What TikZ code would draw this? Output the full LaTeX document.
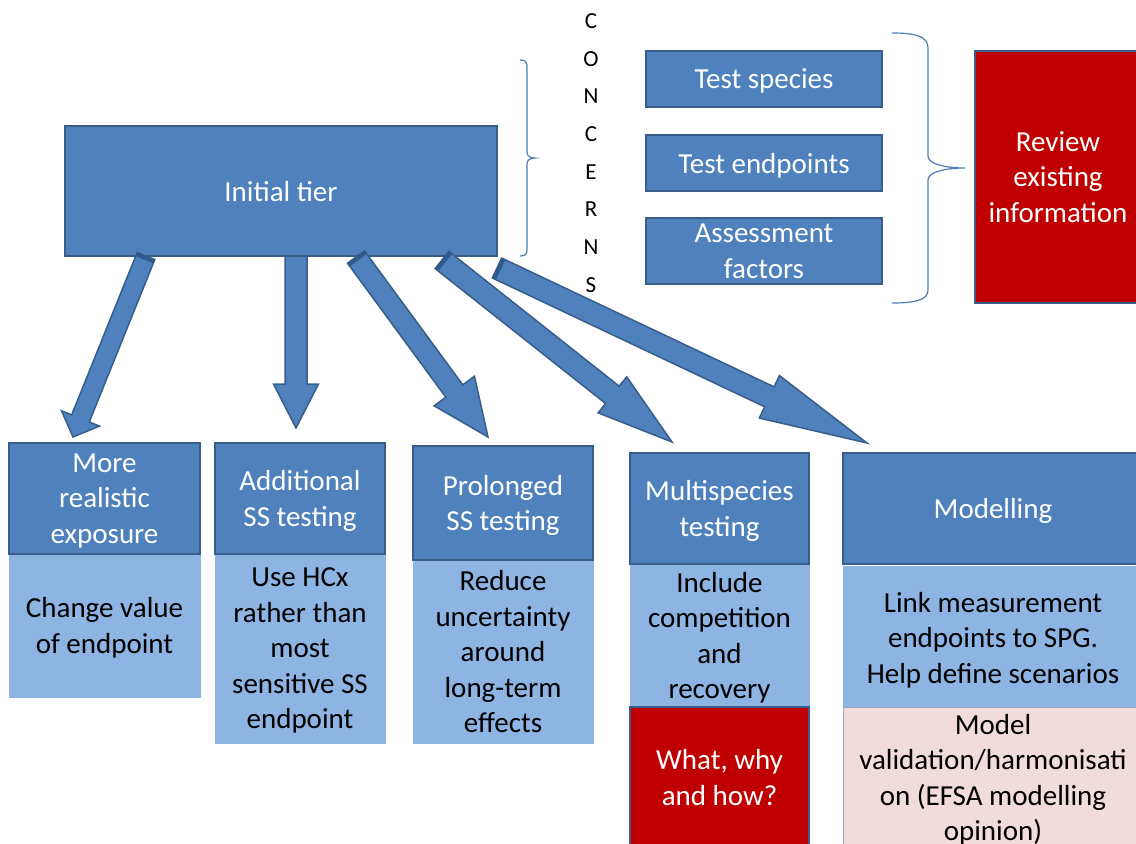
\documentclass[tikz,border=0pt]{standalone}
\usepackage{fontspec}
\setmainfont{Carlito}
\usetikzlibrary{calc}

\definecolor{boxblue}{HTML}{4F81BD}
\definecolor{edgeblue}{HTML}{385D8A}
\definecolor{paleblue}{HTML}{8DB4E2}
\definecolor{alertred}{HTML}{C00000}
\definecolor{palepink}{HTML}{F2DCDB}
\definecolor{bracecol}{HTML}{4A7EBB}
\definecolor{tailshade}{HTML}{30598C}

\tikzset{
  every node/.style={font=\fontsize{29bp}{35.5bp}\selectfont, align=center,
                     inner sep=0pt, outer sep=0pt},
  boxtext/.style={text depth=0pt},
  bluebox/.style={boxtext, fill=boxblue, draw=edgeblue, line width=1.5bp, text=white},
  notebox/.style={boxtext, fill=paleblue, draw=paleblue, line width=0.8bp, text=black},
  redbox/.style={boxtext, fill=alertred, draw=edgeblue, line width=1.5bp, text=white},
  pinkbox/.style={boxtext, fill=palepink, draw=edgeblue!55, line width=1bp, text=black},
  bracket/.style={draw=bracecol, line width=1.2bp},
  fatarrow/.style={fill=boxblue, draw=edgeblue, line width=1.5bp, line join=miter},
  sidelabel/.style={font=\fontsize{23bp}{37.7bp}\selectfont, text=black},
}

% block arrow: #1 name, #2 tail, #3 tip, #4 shaft half-width, #5 head half-width, #6 head length
\newcommand\blockarrow[6]{%
  \coordinate (#1-h) at ($(#3)!#6!(#2)$);
  \draw[fatarrow] ($(#2)!#4!90:(#3)$) -- ($(#1-h)!#4!90:(#3)$)
    -- ($(#1-h)!#5!90:(#3)$) -- (#3) -- ($(#1-h)!#5!-90:(#3)$)
    -- ($(#1-h)!#4!-90:(#3)$) -- ($(#2)!#4!-90:(#3)$) -- cycle;
}
% darker band at the tail end of a block arrow
\newcommand\arrowtail[4]{%
  \coordinate (#1-t) at ($(#2)!4bp!(#3)$);
  \fill[tailshade] ($(#2)!#4!90:(#3)$) -- ($(#2)!#4!-90:(#3)$)
    -- ($(#1-t)!#4!-90:(#3)$) -- ($(#1-t)!#4!90:(#3)$) -- cycle;
}

\begin{document}
\begin{tikzpicture}[x=1bp, y=-1bp]
\path[use as bounding box] (0,0) rectangle (1136,844);
\clip (0,0) rectangle (1136,844);
\fill[white] (0,0) rectangle (1136,844);

% top row
\node[bluebox, minimum width=432bp, minimum height=130bp] (init) at (281,191) {Initial tier};

\node[sidelabel] (concerns) at (591,153) {C\\O\\N\\C\\E\\R\\N\\S};

\node[bluebox, minimum width=236bp, minimum height=56bp] (species) at (764,79) {Test species};
\node[bluebox, minimum width=236bp, minimum height=56bp] (endpoints) at (764,163) {Test endpoints};
\node[bluebox, minimum width=236bp, minimum height=66bp] (factors) at (764,251) {Assessment\\factors};

\node[redbox, minimum width=166bp, minimum height=252bp] (review) at (1058,177) {Review\\existing\\information};

% braces
\draw[bracket] (520,60) .. controls (525,60) and (527,62) .. (527,66) -- (527,152)
  .. controls (527,156) and (530,158) .. (535,158)
  .. controls (530,158) and (527,160) .. (527,164) -- (527,250)
  .. controls (527,254) and (525,256) .. (520,256);
\draw[bracket] (892,33) .. controls (915,33) and (928,36) .. (928,48) -- (928,156)
  .. controls (928,164) and (945,168) .. (965,168)
  .. controls (945,168) and (928,172) .. (928,180) -- (928,290)
  .. controls (928,300) and (915,303) .. (892,303);

% bottom row: note bodies first, headers on top
\node[notebox, minimum width=191bp, minimum height=143bp] (b1) at (104.5,625.5) {Change value\\of endpoint};
\node[notebox, minimum width=170bp, minimum height=189bp] (b2) at (300,648.5) {Use HCx\\rather than\\most\\sensitive SS\\endpoint};
\node[notebox, minimum width=180bp, minimum height=183bp] (b3) at (503,651.5) {Reduce\\uncertainty\\around\\long-term\\effects};
\node[notebox, minimum width=179bp, minimum height=143bp] (b4) at (719.5,635.5) {Include\\competition\\and\\recovery};
\node[notebox, minimum width=300bp, minimum height=143bp] (b5) at (993,637.5) {Link measurement\\endpoints to SPG.\\Help define scenarios};

\node[redbox, minimum width=179bp, minimum height=141bp] (x4) at (719.5,777.5) {What, why\\and how?};
\node[pinkbox, minimum width=300bp, minimum height=141bp] (x5) at (993,777.5) {Model\\validation/harmonisati\\on (EFSA modelling\\opinion)};

\node[bluebox, minimum width=191bp, minimum height=111bp] (h1) at (104.5,498.5) {More\\realistic\\exposure};
\node[bluebox, minimum width=170bp, minimum height=111bp] (h2) at (300,498.5) {Additional\\SS testing};
\node[bluebox, minimum width=180bp, minimum height=114bp] (h3) at (503,503) {Prolonged\\SS testing};
\node[bluebox, minimum width=179bp, minimum height=111bp] (h4) at (719.5,508.5) {Multispecies\\testing};
\node[bluebox, minimum width=300bp, minimum height=111bp] (h5) at (993,508.5) {Modelling};

% arrow ends
\coordinate (a1-tail) at ($(init.south west)+(81,0)$);
\coordinate (a2-tail) at ($(init.south west)+(231,0)$);
\coordinate (a3-tail) at ($(init.south west)+(291,1)$);
\coordinate (a4-tail) at ($(init.south west)+(377,4)$);
\coordinate (a5-tail) at ($(init.south west)+(432,12)$);
\coordinate (a1-tip) at ($(h1.north)+(-31.5,-6)$);
\coordinate (a2-tip) at ($(h2.north)+(-4,-15)$);
\coordinate (a3-tip) at ($(h3.north)+(-15,-9)$);
\coordinate (a4-tip) at ($(h4.north)+(-47.5,-11)$);
\coordinate (a5-tip) at ($(h5.north)+(-126,-10)$);

% block arrows from the initial tier to each option
\blockarrow{a1}{a1-tail}{a1-tip}{9.5bp}{20.5bp}{20bp}
\arrowtail{a1}{a1-tail}{a1-tip}{9.5bp}
\blockarrow{a2}{a2-tail}{a2-tip}{11bp}{22.5bp}{44bp}
\blockarrow{a3}{a3-tail}{a3-tip}{10.5bp}{25bp}{57bp}
\arrowtail{a3}{a3-tail}{a3-tip}{10.5bp}
\blockarrow{a4}{a4-tail}{a4-tip}{11bp}{23bp}{76bp}
\arrowtail{a4}{a4-tail}{a4-tip}{11bp}
\blockarrow{a5}{a5-tail}{a5-tip}{11bp}{23.5bp}{108bp}
\arrowtail{a5}{a5-tail}{a5-tip}{11bp}
\end{tikzpicture}
\end{document}
